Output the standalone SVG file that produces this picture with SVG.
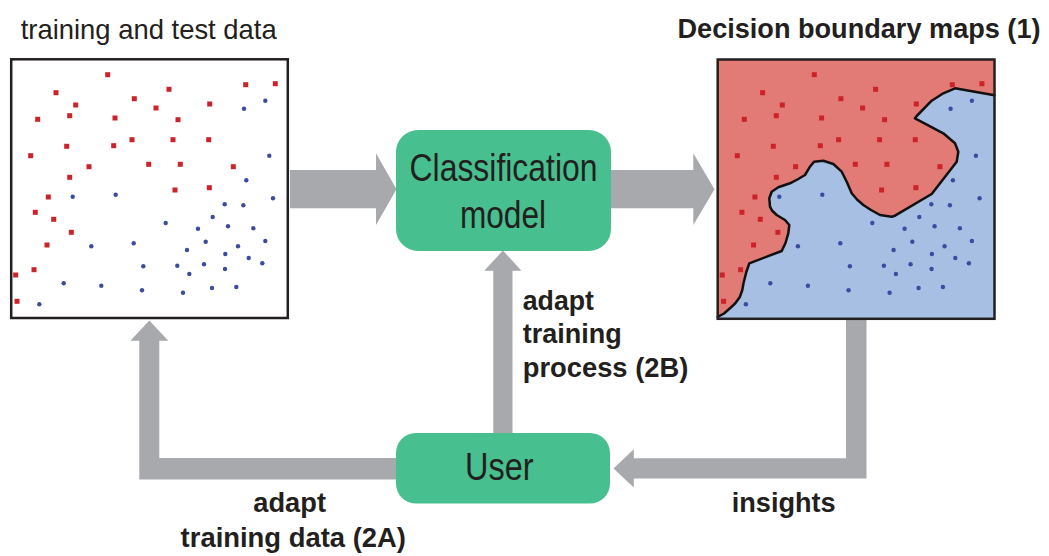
<svg xmlns="http://www.w3.org/2000/svg" xmlns:xlink="http://www.w3.org/1999/xlink" width="1049" height="556" viewBox="0 0 1049 556">
  <style>
    .frame { fill: none; stroke: #231f20; stroke-width: 2.5; }
    .box { fill: #48bf8f; }
    .flow { fill: #a7a9ac; }
    .sq { fill: #cc2229; }
    .dot { fill: #3a4ca0; }
    .big { font-family: "Liberation Sans", Arial, sans-serif; font-size: 38px; fill: #231f20; }
    .lbl { font-family: "Liberation Sans", Arial, sans-serif; font-size: 28.5px; font-weight: bold; fill: #231f20; }
    .title { font-family: "Liberation Sans", Arial, sans-serif; font-size: 28px; fill: #231f20; }
    .heading { font-family: "Liberation Sans", Arial, sans-serif; font-size: 27px; font-weight: bold; fill: #231f20; }
    .boundary { fill: none; stroke: #111; stroke-width: 2.5; stroke-linejoin: round; stroke-linecap: round; }
  </style>
  <defs>
    <!-- sample set, drawn in the coordinates of the left panel -->
    <g id="samples">
      <g class="sq">
        <rect x="105.2" y="72.2" width="5" height="5"/>
        <rect x="53.5" y="90.2" width="5" height="5"/>
        <rect x="73.2" y="102.5" width="5" height="5"/>
        <rect x="35.2" y="116.8" width="5" height="5"/>
        <rect x="67.2" y="113.2" width="5" height="5"/>
        <rect x="131.8" y="96.2" width="5" height="5"/>
        <rect x="166.5" y="86.8" width="5" height="5"/>
        <rect x="153.5" y="105.5" width="5" height="5"/>
        <rect x="112.5" y="115.5" width="5" height="5"/>
        <rect x="175.5" y="117.2" width="5" height="5"/>
        <rect x="207.2" y="101.5" width="5" height="5"/>
        <rect x="243.2" y="82.2" width="5" height="5"/>
        <rect x="272.8" y="81.2" width="5" height="5"/>
        <rect x="64.2" y="143.8" width="5" height="5"/>
        <rect x="111.2" y="143.2" width="5" height="5"/>
        <rect x="129.5" y="137.2" width="5" height="5"/>
        <rect x="170.5" y="137.2" width="5" height="5"/>
        <rect x="206.2" y="137.2" width="5" height="5"/>
        <rect x="28.2" y="153.2" width="5" height="5"/>
        <rect x="86.5" y="164.2" width="5" height="5"/>
        <rect x="146.2" y="161.8" width="5" height="5"/>
        <rect x="177.8" y="161.8" width="5" height="5"/>
        <rect x="230.8" y="164.2" width="5" height="5"/>
        <rect x="67.2" y="174.8" width="5" height="5"/>
        <rect x="45.8" y="194.5" width="5" height="5"/>
        <rect x="172.5" y="187.5" width="5" height="5"/>
        <rect x="206.8" y="185.2" width="5" height="5"/>
        <rect x="32.8" y="209.8" width="5" height="5"/>
        <rect x="51.2" y="216.8" width="5" height="5"/>
        <rect x="68.8" y="229.8" width="5" height="5"/>
        <rect x="44.5" y="242.5" width="5" height="5"/>
        <rect x="31.5" y="267.2" width="5" height="5"/>
        <rect x="13.2" y="272.5" width="5" height="5"/>
        <rect x="14.5" y="298.8" width="5" height="5"/>
      </g>
      <g class="dot">
        <circle cx="265.3" cy="100.7" r="2.2"/>
        <circle cx="244" cy="108.7" r="2.2"/>
        <circle cx="269.3" cy="155.7" r="2.2"/>
        <circle cx="246.3" cy="180.3" r="2.2"/>
        <circle cx="273" cy="198.3" r="2.2"/>
        <circle cx="224.7" cy="204.3" r="2.2"/>
        <circle cx="243.3" cy="205.3" r="2.2"/>
        <circle cx="72.7" cy="196.7" r="2.2"/>
        <circle cx="115.7" cy="194.7" r="2.2"/>
        <circle cx="212.7" cy="217" r="2.2"/>
        <circle cx="165.7" cy="223" r="2.2"/>
        <circle cx="198" cy="228.7" r="2.2"/>
        <circle cx="228" cy="226.3" r="2.2"/>
        <circle cx="253.3" cy="228.3" r="2.2"/>
        <circle cx="205.7" cy="241.7" r="2.2"/>
        <circle cx="265.3" cy="241" r="2.2"/>
        <circle cx="91.3" cy="246.3" r="2.2"/>
        <circle cx="133.7" cy="243.3" r="2.2"/>
        <circle cx="187" cy="250" r="2.2"/>
        <circle cx="238" cy="246.3" r="2.2"/>
        <circle cx="225.3" cy="254" r="2.2"/>
        <circle cx="248.7" cy="258" r="2.2"/>
        <circle cx="262.3" cy="263.3" r="2.2"/>
        <circle cx="143.3" cy="266.3" r="2.2"/>
        <circle cx="177.3" cy="265.7" r="2.2"/>
        <circle cx="204" cy="264.3" r="2.2"/>
        <circle cx="225" cy="269" r="2.2"/>
        <circle cx="189.3" cy="274" r="2.2"/>
        <circle cx="63.7" cy="283.3" r="2.2"/>
        <circle cx="101.3" cy="285.7" r="2.2"/>
        <circle cx="142" cy="290.3" r="2.2"/>
        <circle cx="183" cy="292.7" r="2.2"/>
        <circle cx="212" cy="288" r="2.2"/>
        <circle cx="236.3" cy="287" r="2.2"/>
        <circle cx="39.3" cy="304.3" r="2.2"/>
      </g>
    </g>
  </defs>

  <!-- connectors -->
  <g id="connectors" class="flow">
    <polygon id="data-to-model" points="290,170 376,170 376,153.3 396.5,189.2 376,225 376,208.3 290,208.3"/>
    <polygon id="model-to-map" points="611,170 693.3,170 693.3,153.3 714.5,189.2 693.3,225 693.3,208.3 611,208.3"/>
    <polygon id="user-to-model" points="493.3,433 493.3,270.7 484.3,270.7 502.9,250.5 521.4,270.7 512.5,270.7 512.5,433"/>
    <polygon id="user-to-data" points="396,458 159.3,458 159.3,340.7 168.3,340.7 149.3,320.5 130.4,340.7 139.3,340.7 139.3,479.5 396,479.5"/>
    <polygon id="map-to-user" points="846,320 866.5,320 866.5,478.5 633.8,478.5 633.8,487.5 613.5,468.4 633.8,449.3 633.8,458.3 846,458.3"/>
  </g>

  <!-- training and test data panel -->
  <g id="data-panel">
    <text class="title" x="20.7" y="38.5" textLength="256" lengthAdjust="spacingAndGlyphs">training and test data</text>
    <rect x="11.2" y="59.3" width="276.6" height="258.7" fill="#fff"/>
    <use href="#samples" xlink:href="#samples"/>
    <rect class="frame" x="11.2" y="59.3" width="276.6" height="258.7"/>
  </g>

  <!-- decision boundary map panel -->
  <g id="map-panel">
    <text class="heading" x="677.5" y="37.5" textLength="363" lengthAdjust="spacingAndGlyphs">Decision boundary maps (1)</text>
    <rect x="717.7" y="59.5" width="276.8" height="259.3" fill="#e27b76"/>
    <path fill="#a6bfe3" d="M717.7,316.8 L724,313.5 L730,308.3 L735.5,303 L740,296.7 L742.3,290 L743.5,283.3 L746.3,272 L749.3,263.3 L781.7,251 L785.5,243 L788.3,233.3 L789.3,225 L785,220 L776.7,215 L772,210.5 L770,206.7 L769.3,198.3 L771.7,191.7 L778.3,187.3 L790,183.3 L798.3,179 L805,175 L810,166.7 L814,161.7 L823.3,160.7 L833.3,164 L841.7,171.7 L846.7,181.7 L851.7,193.3 L857,199.5 L863.3,205 L871,210 L880,215 L891.7,216.7 L895,215.7 L931.7,194 L956.7,161.7 L958.3,151.7 L955,143.3 L943.3,133.3 L915,118.3 L916.7,116 L931.7,100.7 L943.3,93.3 L955,88.3 L994.5,95.2 L994.5,318.8 L717.7,318.8 Z"/>
    <path class="boundary" d="M717.7,316.8 L724,313.5 L730,308.3 L735.5,303 L740,296.7 L742.3,290 L743.5,283.3 L746.3,272 L749.3,263.3 L781.7,251 L785.5,243 L788.3,233.3 L789.3,225 L785,220 L776.7,215 L772,210.5 L770,206.7 L769.3,198.3 L771.7,191.7 L778.3,187.3 L790,183.3 L798.3,179 L805,175 L810,166.7 L814,161.7 L823.3,160.7 L833.3,164 L841.7,171.7 L846.7,181.7 L851.7,193.3 L857,199.5 L863.3,205 L871,210 L880,215 L891.7,216.7 L895,215.7 L931.7,194 L956.7,161.7 L958.3,151.7 L955,143.3 L943.3,133.3 L915,118.3 L916.7,116 L931.7,100.7 L943.3,93.3 L955,88.3 L994.5,95.2"/>
    <use href="#samples" xlink:href="#samples" transform="translate(706.6,0)"/>
    <rect class="frame" x="717.7" y="59.5" width="276.8" height="259.3"/>
  </g>

  <!-- classification model -->
  <g id="classifier">
    <rect class="box" x="396" y="130" width="215" height="121" rx="22"/>
    <text class="big" x="409.5" y="181" textLength="188" lengthAdjust="spacingAndGlyphs">Classification</text>
    <text class="big" x="460" y="228.3" textLength="86" lengthAdjust="spacingAndGlyphs">model</text>
  </g>

  <!-- user -->
  <g id="user">
    <rect class="box" x="396" y="433" width="214" height="70.5" rx="20"/>
    <text class="big" x="465" y="480" textLength="68.5" lengthAdjust="spacingAndGlyphs">User</text>
  </g>

  <!-- connector labels -->
  <g id="labels">
    <text class="lbl" x="522.7" y="310" textLength="71.3" lengthAdjust="spacingAndGlyphs">adapt</text>
    <text class="lbl" x="522.7" y="343.3" textLength="99" lengthAdjust="spacingAndGlyphs">training</text>
    <text class="lbl" x="522.7" y="376.7" textLength="165.6" lengthAdjust="spacingAndGlyphs">process (2B)</text>
    <text class="lbl" x="731.7" y="511.7" textLength="104" lengthAdjust="spacingAndGlyphs">insights</text>
    <text class="lbl" x="253.3" y="511.7" textLength="72.7" lengthAdjust="spacingAndGlyphs">adapt</text>
    <text class="lbl" x="180.6" y="546.7" textLength="225.4" lengthAdjust="spacingAndGlyphs">training data (2A)</text>
  </g>
</svg>
